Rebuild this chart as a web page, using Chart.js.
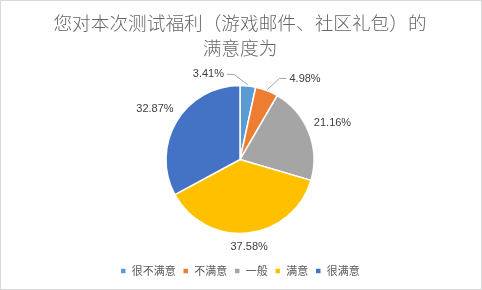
<!DOCTYPE html>
<html>
<head>
<meta charset="utf-8">
<script src="https://cdn.jsdelivr.net/npm/chart.js@4.4.1/dist/chart.umd.min.js"></script>
<style>
html,body{margin:0;padding:0;background:#fff;}
canvas{display:block;}
</style>
</head>
<body>
<canvas id="c" width="482" height="290"></canvas>
<script>
const titleLines = ['您对本次测试福利（游戏邮件、社区礼包）的', '满意度为'];
const categories = ['很不满意', '不满意', '一般', '满意', '很满意'];
const values = [3.41, 4.98, 21.16, 37.58, 32.87];
const colors = ['#5B9BD5', '#ED7D31', '#A5A5A5', '#FFC000', '#4472C4'];

// label style: extra shift (px) and whether a leader line is drawn
const labelShift = [[-41, 2], [32, 4], [0, 0], [0, 0], [0, 0]];
const leader = [true, true, false, false, false];
const GAP = 6;

const bgPlugin = {
  id: 'bg',
  beforeDraw(chart) {
    const ctx = chart.ctx;
    ctx.save();
    ctx.fillStyle = '#fff';
    ctx.fillRect(0, 0, chart.width, chart.height);
    ctx.strokeStyle = '#D9D9D9';
    ctx.lineWidth = 1;
    ctx.strokeRect(0.5, 0.5, chart.width - 1, chart.height - 1);
    ctx.restore();
  }
};

const labelPlugin = {
  id: 'pctLabels',
  afterDatasetsDraw(chart) {
    const ctx = chart.ctx;
    const meta = chart.getDatasetMeta(0);
    ctx.save();
    ctx.font = '11px "Liberation Sans"';
    ctx.textBaseline = 'middle';
    ctx.textAlign = 'center';
    meta.data.forEach((arc, i) => {
      const p = arc.getProps(['x', 'y', 'startAngle', 'endAngle', 'outerRadius'], true);
      const a = (p.startAngle + p.endAngle) / 2;
      const c = Math.cos(a), s = Math.sin(a);
      const text = values[i].toFixed(2) + '%';
      const w = ctx.measureText(text).width, h = 12;
      const d = p.outerRadius + GAP + Math.abs(c) * w / 2 + Math.abs(s) * h / 2;
      const lx = p.x + c * d + labelShift[i][0];
      const ly = p.y + s * d + labelShift[i][1];
      if (leader[i]) {
        const ex = p.x + c * (p.outerRadius + 1);
        const ey = p.y + s * (p.outerRadius + 1);
        const dir = ex > lx ? 1 : -1;
        const x0 = lx + dir * (w / 2 + 3);
        const x1 = lx + dir * (w / 2 + 10);
        ctx.strokeStyle = '#A6A6A6';
        ctx.lineWidth = 1;
        ctx.beginPath();
        ctx.moveTo(x0, ly);
        ctx.lineTo(x1, ly);
        ctx.lineTo(ex, ey);
        ctx.stroke();
      }
      ctx.fillStyle = '#404040';
      ctx.fillText(text, lx, ly);
    });
    ctx.restore();
  }
};

new Chart(document.getElementById('c'), {
  type: 'pie',
  data: {
    labels: categories,
    datasets: [{
      data: values,
      backgroundColor: colors,
      borderColor: '#ffffff',
      borderWidth: 1.5
    }]
  },
  options: {
    responsive: false,
    animation: false,
    radius: 74,
    layout: { padding: { top: 0, bottom: 3.5, left: 0, right: 2 } },
    events: [],
    plugins: {
      title: {
        display: true,
        text: titleLines,
        color: '#666666',
        font: { family: '"Noto Sans CJK SC"', size: 18.67, weight: 300, lineHeight: 1.34 },
        padding: { top: 10.5, bottom: 0 }
      },
      legend: {
        display: true,
        position: 'bottom',
        labels: {
          color: '#595959',
          font: { family: '"Noto Sans CJK SC"', size: 11 },
          boxWidth: 6,
          boxHeight: 6,
          padding: 7
        }
      },
      tooltip: { enabled: false }
    }
  },
  plugins: [bgPlugin, labelPlugin]
});
</script>
</body>
</html>
